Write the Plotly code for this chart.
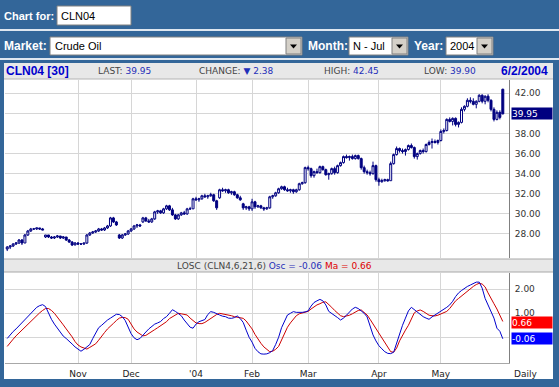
import plotly.graph_objects as go

W, H = 559, 387

# ---------------- data ----------------
opens = [26.5,26.7,26.8,27.0,27.1,27.4,27.1,27.9,28.3,28.5,
 28.5,28.6,28.5,27.7,27.9,27.7,27.6,27.7,27.8,27.6,
 27.7,27.4,27.2,26.9,27.1,27.0,27.0,27.1,27.9,28.1,
 28.2,28.3,28.5,28.4,28.6,28.8,29.6,29.2,27.9,27.6,
 27.9,28.0,28.3,28.5,28.8,28.9,29.2,29.6,29.3,29.2,
 29.5,30.2,30.3,30.1,30.5,30.8,30.4,29.9,29.5,29.9,
 30.1,30.0,30.5,30.5,31.5,31.4,31.5,31.8,31.7,31.8,
 31.9,31.3,31.6,32.4,32.3,32.4,32.1,32.2,31.9,31.6,
 31.0,30.6,30.7,30.5,31.2,30.7,30.8,30.6,30.5,30.6,
 31.7,31.8,32.1,32.5,32.7,32.4,32.3,32.4,32.2,32.4,
 33.0,33.1,34.6,34.5,33.8,34.2,34.1,34.7,34.4,33.9,
 34.0,34.5,34.1,34.8,35.1,35.7,35.6,35.7,35.5,35.8,
 35.5,34.6,34.2,34.1,34.0,34.8,33.4,33.2,33.3,33.4,
 33.3,35.0,35.9,36.5,36.3,36.2,36.4,36.8,36.6,35.7,
 36.0,36.3,36.2,36.9,37.1,37.2,37.1,37.3,38.2,38.3,
 39.4,39.2,39.5,38.9,39.1,40.4,40.7,41.3,41.2,40.9,
 41.2,41.8,41.2,41.7,41.3,40.4,39.4,40.1,42.4]
highs = [26.8,26.9,27.1,27.2,27.5,27.5,28.0,28.4,28.6,28.6,
 28.6,28.6,28.6,27.9,27.9,27.8,27.8,27.9,27.8,27.8,
 27.7,27.5,27.3,27.2,27.2,27.1,27.1,28.0,28.2,28.3,
 28.4,28.6,28.6,28.7,28.9,29.7,29.7,29.3,28.0,28.0,
 28.1,28.4,28.6,28.9,29.0,29.0,29.7,29.7,29.5,29.6,
 30.3,30.4,30.4,30.6,30.9,30.9,30.6,30.0,30.0,30.2,
 30.3,30.6,30.7,31.6,31.7,31.6,31.9,32.0,31.9,32.1,
 32.0,31.4,32.5,32.6,32.5,32.5,32.3,32.3,32.0,31.8,
 31.1,30.8,30.8,31.5,31.3,30.9,30.9,30.7,30.7,31.8,
 31.9,32.2,32.6,32.8,32.8,32.6,32.5,32.5,32.5,33.1,
 33.2,34.7,34.8,34.6,34.3,34.5,34.8,34.8,34.5,34.1,
 34.6,34.7,34.9,35.2,35.8,35.9,35.8,35.9,35.9,35.9,
 35.6,34.8,34.4,34.3,35.2,34.9,33.6,33.5,33.5,33.5,
 35.2,36.0,36.7,36.6,36.5,36.5,36.9,37.0,36.7,36.1,
 36.4,36.5,37.0,37.3,37.5,37.4,37.4,38.4,38.5,39.5,
 39.6,39.6,39.6,39.2,40.6,40.8,41.5,41.6,41.5,41.3,
 41.9,41.9,41.8,41.9,41.4,40.6,40.3,40.3,42.45]
lows = [26.3,26.5,26.7,26.9,27.0,26.9,27.1,27.8,28.2,28.4,
 28.4,28.4,28.4,27.6,27.6,27.5,27.5,27.6,27.5,27.5,
 27.3,27.1,26.8,26.9,26.9,26.9,26.9,27.0,27.8,28.0,
 28.1,28.2,28.3,28.3,28.5,28.7,29.1,28.8,27.5,27.5,
 27.8,27.9,28.2,28.4,28.6,28.7,29.1,29.2,29.1,29.1,
 29.4,30.0,30.0,30.0,30.4,30.3,29.8,29.4,29.4,29.8,
 29.9,29.9,30.4,30.5,31.3,31.2,31.4,31.6,31.5,31.7,
 31.2,30.4,31.5,32.2,32.1,32.0,31.9,31.8,31.5,31.3,
 30.4,30.4,30.3,30.3,30.5,30.6,30.5,30.3,30.4,30.5,
 31.5,31.7,32.0,32.4,32.3,32.2,32.1,32.0,32.1,32.3,
 32.9,33.0,34.3,33.6,33.6,34.0,34.0,34.3,33.8,33.4,
 33.9,33.9,34.0,34.7,35.0,35.5,35.3,35.4,35.4,35.4,
 34.4,34.0,33.9,33.8,33.9,33.2,32.8,33.1,33.2,33.2,
 33.3,34.9,35.8,36.1,36.0,35.8,36.3,36.5,35.5,35.4,
 35.9,36.0,36.1,36.8,36.5,37.0,36.9,37.2,38.0,38.2,
 39.1,38.8,38.7,38.6,39.0,40.2,40.6,41.0,40.8,40.5,
 41.1,41.0,40.9,41.1,40.2,39.2,39.3,39.4,39.9]
closes = [26.7,26.8,27.0,27.1,27.4,27.1,27.9,28.3,28.5,28.5,
 28.6,28.5,28.4,27.9,27.7,27.6,27.7,27.8,27.6,27.7,
 27.4,27.2,26.9,27.1,27.0,27.0,27.1,27.9,28.1,28.2,
 28.3,28.5,28.4,28.6,28.8,29.6,29.2,28.9,27.6,27.9,
 28.0,28.3,28.5,28.8,28.9,28.8,29.6,29.3,29.2,29.5,
 30.2,30.3,30.1,30.5,30.8,30.4,29.9,29.5,29.9,30.1,
 30.0,30.5,30.5,31.5,31.4,31.5,31.8,31.7,31.8,31.9,
 31.3,30.6,32.4,32.3,32.4,32.1,32.2,31.9,31.6,31.4,
 30.6,30.7,30.5,31.2,30.7,30.8,30.6,30.5,30.6,31.7,
 31.8,32.1,32.5,32.7,32.4,32.3,32.4,32.2,32.4,33.0,
 33.1,34.6,34.5,33.8,34.2,34.1,34.7,34.4,33.9,34.0,
 34.5,34.1,34.8,35.1,35.7,35.6,35.7,35.5,35.8,35.5,
 34.6,34.2,34.1,34.0,34.8,33.4,33.2,33.3,33.4,33.3,
 35.0,35.9,36.5,36.3,36.2,36.4,36.8,36.6,35.7,36.0,
 36.3,36.2,36.9,37.1,37.2,37.1,37.3,38.2,38.3,39.4,
 39.2,39.5,38.9,39.1,40.4,40.7,41.3,41.2,40.9,41.2,
 41.8,41.2,41.7,41.3,40.4,39.4,40.1,39.6,39.95]

osc = [-0.05,0.10,0.24,0.35,0.48,0.62,0.72,0.88,1.00,1.15,
 1.25,1.32,1.36,1.28,1.00,0.75,0.55,0.38,0.17,0.05,
 -0.05,-0.15,-0.28,-0.40,-0.50,-0.58,-0.50,-0.40,-0.30,-0.05,
 0.20,0.40,0.50,0.62,0.72,0.80,0.90,0.96,0.95,0.86,
 0.70,0.45,0.15,-0.02,-0.10,-0.05,0.10,0.22,0.35,0.47,
 0.55,0.60,0.66,0.78,0.86,1.00,1.15,1.08,0.98,0.90,
 0.72,0.55,0.42,0.38,0.55,0.65,0.68,0.74,0.95,1.07,
 1.04,1.00,0.93,0.88,0.86,0.80,0.79,0.82,0.89,0.78,
 0.62,0.30,0.00,-0.20,-0.46,-0.60,-0.69,-0.70,-0.69,-0.64,
 -0.55,-0.30,0.00,0.40,0.70,0.93,1.00,1.07,1.04,1.03,
 1.04,1.06,1.10,1.30,1.45,1.52,1.58,1.52,1.35,1.08,
 1.00,0.93,0.82,0.72,0.80,0.92,1.05,1.18,1.25,1.20,
 1.10,1.00,0.85,0.45,0.10,-0.15,-0.35,-0.48,-0.60,-0.67,
 -0.68,-0.62,-0.25,0.20,0.50,0.80,1.10,1.25,1.15,1.07,
 0.95,0.86,0.80,0.75,0.85,0.93,1.00,1.10,1.15,1.25,
 1.35,1.50,1.70,1.85,1.95,2.05,2.12,2.18,2.25,2.30,
 2.30,2.05,1.62,1.35,1.12,0.80,0.38,0.25,-0.06]
ma = [-0.38,-0.25,-0.08,0.06,0.18,0.32,0.45,0.58,0.70,0.82,
 0.92,1.02,1.12,1.20,1.20,1.12,1.00,0.85,0.70,0.52,
 0.35,0.20,0.02,-0.18,-0.32,-0.40,-0.46,-0.49,-0.42,-0.35,
 -0.27,-0.12,0.02,0.20,0.35,0.45,0.58,0.70,0.80,0.83,
 0.82,0.75,0.55,0.35,0.22,0.12,0.06,0.08,0.15,0.22,
 0.32,0.40,0.48,0.58,0.65,0.78,0.85,0.95,1.00,0.98,
 0.95,0.93,0.80,0.68,0.60,0.57,0.57,0.62,0.70,0.80,
 0.87,0.95,1.00,0.98,0.95,0.92,0.90,0.86,0.84,0.82,
 0.79,0.68,0.52,0.35,0.12,-0.08,-0.25,-0.40,-0.52,-0.60,
 -0.58,-0.50,-0.38,-0.10,0.20,0.42,0.60,0.75,0.90,0.98,
 1.02,1.05,1.08,1.18,1.27,1.35,1.40,1.46,1.48,1.38,
 1.25,1.12,1.00,0.90,0.86,0.88,0.92,0.98,1.05,1.12,
 1.14,1.05,0.93,0.75,0.55,0.35,0.15,-0.05,-0.25,-0.45,
 -0.60,-0.62,-0.45,-0.15,0.10,0.30,0.50,0.80,1.02,1.10,
 1.14,1.08,0.98,0.92,0.90,0.89,0.92,0.98,1.03,1.08,
 1.20,1.38,1.52,1.62,1.72,1.82,1.95,2.05,2.12,2.20,
 2.25,2.22,2.10,1.85,1.60,1.40,1.18,0.92,0.66]

month_labels = ["Nov", "Dec", "'04", "Feb", "Mar", "Apr", "May"]
month_start_index = [24, 42, 64, 83, 102, 126, 147]
price_ticks = [28, 30, 32, 34, 36, 38, 40, 42]
price_tick_labels = ["28.00", "30.00", "32.00", "34.00", "36.00", "38.00", "", "42.00"]  # 40.00 hidden by last-price flag
osc_ticks = [0, 1, 2]
osc_tick_labels = ["", "1.00", "2.00"]  # 0.00 hidden by Osc flag

symbol = "CLN04"
last_price, change, day_high, day_low = 39.95, 2.38, 42.45, 39.90
osc_last, ma_last = -0.06, 0.66
chart_date = "6/2/2004"

# ---------------- helpers ----------------
def px(x): return x / W
def py(y): return 1 - y / H

shapes, annots = [], []

def rect(x0, y0, x1, y1, fill, line=None, lw=0, layer="below"):
    shapes.append(dict(type="rect", xref="paper", yref="paper",
                       x0=px(x0), x1=px(x1), y0=py(y1), y1=py(y0),
                       fillcolor=fill, line=dict(color=line or fill, width=lw), layer=layer))

def hline(x0, x1, y, color, w=1, layer="below"):
    shapes.append(dict(type="line", xref="paper", yref="paper", x0=px(x0), x1=px(x1),
                       y0=py(y), y1=py(y), line=dict(color=color, width=w), layer=layer))

def text(x, y, s, size=9, color="#333", family="DejaVu Sans", xanchor="left", **kw):
    d = dict(x=px(x), y=py(y), xref="paper", yref="paper", text=s, showarrow=False,
             xanchor=xanchor, yanchor="middle", borderpad=0,
             font=dict(size=size, color=color, family=family))
    d.update(kw)
    annots.append(d)

def arrow_btn(x0, y0, x1, y1):
    rect(x0, y0, x1, y1, "#d4d0c8", "#808080", 1)
    cx, cy = (x0 + x1) / 2, (y0 + y1) / 2
    path = "M {} {} L {} {} L {} {} Z".format(px(cx - 3.5), py(cy - 1.5), px(cx + 3.5), py(cy - 1.5), px(cx), py(cy + 2.5))
    shapes.append(dict(type="path", xref="paper", yref="paper", path=path,
                       fillcolor="#000000", line=dict(color="#000000", width=0), layer="below"))

ARIAL = "Liberation Sans, Arial"

# form rows
text(3, 16, "<b>Chart for:</b>", 11, "#ffffff", ARIAL)
rect(57, 6, 131, 25, "#ffffff", "#808080", 1)
text(60, 16, symbol, 11, "#000000", ARIAL)
hline(0, W, 30, "#dfe7f0", 2)

text(3, 46, "<b>Market:</b>", 12, "#ffffff", ARIAL)
rect(50, 37, 302, 55, "#ffffff", "#808080", 1)
text(54, 46, "Crude Oil", 11, "#000000", ARIAL)
arrow_btn(286, 38, 301, 54)
text(307, 46, "<b>Month:</b>", 12, "#ffffff", ARIAL)
rect(349, 37, 408, 55, "#ffffff", "#808080", 1)
text(352, 46, "N - Jul", 11, "#000000", ARIAL)
arrow_btn(392, 38, 407, 54)
text(413, 46, "<b>Year:</b>", 12, "#ffffff", ARIAL)
rect(446, 37, 493, 55, "#ffffff", "#808080", 1)
text(449, 46, "2004", 11, "#000000", ARIAL)
arrow_btn(477, 38, 492, 54)
hline(0, W, 59, "#dfe7f0", 2)

# chart panel
rect(4, 63, 553, 379, "#ffffff")
rect(4, 63, 553, 79, "#e8e8e8")
hline(4, 553, 79, "#b4b4b4", 1)
rect(4, 259, 553, 272, "#e8e8e8")
hline(4, 553, 259, "#a8a8a8", 1)
hline(4, 553, 272, "#a8a8a8", 1)

BLUE_T = "#1f2fb8"
text(5, 71, "<b>%s [30]</b>" % symbol, 12, "#0000cc", ARIAL)
text(97, 71, "LAST: <span style='color:%s'>%.2f</span>" % (BLUE_T, last_price), 9, "#444")
text(198, 71, "CHANGE: <span style='color:%s'>▼ %.2f</span>" % (BLUE_T, change), 9, "#444")
text(323, 71, "HIGH: <span style='color:%s'>%.2f</span>" % (BLUE_T, day_high), 9, "#444")
text(423, 71, "LOW: <span style='color:%s'>%.2f</span>" % (BLUE_T, day_low), 9, "#444")
text(549, 71, "<b>%s</b>" % chart_date, 12, "#0000cc", ARIAL, xanchor="right")

text(176, 266, "LOSC (CLN4,6,21,6) <span style='color:%s'>Osc = %.2f</span> <span style='color:#dd0000'>Ma = %.2f</span>" % (BLUE_T, osc_last, ma_last), 9, "#444")

# value flags
def flag(y, s, bg):
    annots.append(dict(x=px(511), y=py(y), xref="paper", yref="paper", text=s, showarrow=False,
                       xanchor="left", yanchor="middle", align="left", bgcolor=bg,
                       width=40, height=11, borderpad=0,
                       font=dict(size=9, color="#ffffff", family="DejaVu Sans")))
flag(113.5, "%.2f" % last_price, "#000080")
flag(322, "%.2f" % ma_last, "#ff0000")
flag(338.5, "%.2f" % osc_last, "#0000ff")

text(525.5, 374, "Daily", 9, "#222", xanchor="center")

# ---------------- traces ----------------
idx = list(range(len(closes)))
fig = go.Figure()
fig.add_trace(go.Candlestick(x=idx, open=opens, high=highs, low=lows, close=closes,
                             increasing=dict(line=dict(color="#000080", width=1), fillcolor="#ffffff"),
                             decreasing=dict(line=dict(color="#000080", width=1), fillcolor="#000080"),
                             whiskerwidth=0, xaxis="x", yaxis="y", hoverinfo="skip"))
fig.add_trace(go.Scatter(x=idx, y=ma, mode="lines", line=dict(color="#cc0000", width=1),
                         xaxis="x2", yaxis="y2", hoverinfo="skip"))
fig.add_trace(go.Scatter(x=idx, y=osc, mode="lines", line=dict(color="#0000cc", width=1),
                         xaxis="x2", yaxis="y2", hoverinfo="skip"))

XR = [-0.75, 170.1]
GRID = "#d6d6d6"
tickfont = dict(size=9, color="#333", family="DejaVu Sans")
fig.update_layout(
    width=W, height=H, margin=dict(l=0, r=0, t=0, b=0), boxgap=0.05,
    paper_bgcolor="#336699", plot_bgcolor="#ffffff", showlegend=False, hovermode=False,
    shapes=shapes, annotations=annots,
    xaxis=dict(domain=[px(5), px(509)], range=XR, anchor="y", tickvals=month_start_index,
               showticklabels=False, showgrid=True, gridcolor=GRID, zeroline=False,
               showline=False, ticks="", rangeslider=dict(visible=False), fixedrange=True),
    yaxis=dict(domain=[py(258), py(80)], range=[25.61, 43.32], anchor="x", side="right",
               tickvals=price_ticks, ticktext=price_tick_labels, tickfont=tickfont,
               showgrid=True, gridcolor=GRID, zeroline=False, showline=True, linecolor="#808080",
               ticks="", ticklabelstandoff=3, fixedrange=True),
    xaxis2=dict(domain=[px(5), px(509)], range=XR, anchor="y2", tickvals=month_start_index,
                ticktext=month_labels, tickfont=dict(size=9, color="#222", family="DejaVu Sans"),
                showgrid=True, gridcolor=GRID, zeroline=False, showline=True, linecolor="#a8a8a8",
                ticks="", ticklabelstandoff=2, fixedrange=True),
    yaxis2=dict(domain=[py(363.3), py(273)], range=[-1.083, 2.68], anchor="x2", side="right",
                tickvals=osc_ticks, ticktext=osc_tick_labels, tickfont=tickfont,
                showgrid=True, gridcolor=GRID, zeroline=False, showline=True, linecolor="#808080",
                ticks="", ticklabelstandoff=3, fixedrange=True),
)
fig.write_html("out.html", config={"displayModeBar": False},
               post_script="document.body.style.margin='0';document.body.style.padding='0';")
